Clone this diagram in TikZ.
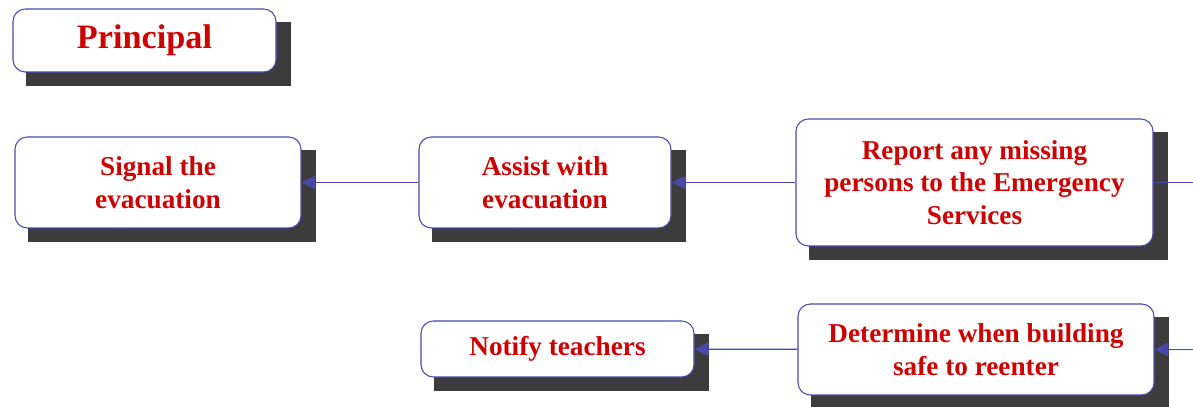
\documentclass[tikz,border=0pt]{standalone}
\usepackage{fontspec}
\setmainfont{Liberation Serif}
\usepackage{tikz}
\usetikzlibrary{arrows.meta}
\usetikzlibrary{backgrounds}
\usetikzlibrary{positioning}
\definecolor{rimcolour}{HTML}{4A4AAE}
\definecolor{wordcolour}{HTML}{CC0000}
\definecolor{linkcolour}{HTML}{4848A8}
\definecolor{shadecolour}{HTML}{3C3C3C}
\newcommand\rimwidth{.6pt}
\newcommand\linkwidth{.7pt}
\tikzset{>={Triangle[length=8pt,width=8pt]}}
\tikzstyle{task}  = [draw=rimcolour, line width=\rimwidth, fill=white,
  rounded corners=7pt, text=wordcolour, align=center, inner sep=2pt,
  font=\bfseries\fontsize{15.5}{18.5}\selectfont]
\tikzstyle{link}  = [draw=linkcolour, line width=\linkwidth]
\tikzstyle{shade} = [fill=shadecolour]

\begin{document}
\begin{tikzpicture}
  \useasboundingbox (0,0) rectangle (23.86,8.14);
  \tikzstyle{every node}=[task]
  \draw (2.89, 7.33) node[minimum width=5.26cm, minimum height=1.26cm, font=\bfseries\fontsize{19.5}{22}\selectfont] (prin) {Principal};
  \draw (3.16, 4.49) node[minimum width=5.72cm, minimum height=1.82cm] (sig) {Signal the\\evacuation};
  \draw (10.9, 4.49) node[minimum width=5.04cm, minimum height=1.82cm] (assist) {Assist with\\evacuation};
  \draw (19.49, 4.49) node[minimum width=7.14cm, minimum height=2.54cm] (report) {Report any missing\\persons to the Emergency\\Services};
  \draw (11.15, 1.16) node[minimum width=5.46cm, minimum height=1.12cm] (notify) {Notify teachers};
  \draw (19.52, 1.15) node[minimum width=7.12cm, minimum height=1.82cm] (safe) {Determine when building\\safe to reenter};
  \coordinate (reportout) at (23.86, 4.49);
  \coordinate (safein) at (23.86, 1.15);
  % drop shadows behind the boxes
  \begin{pgfonlayer}{background}
    \foreach \b in {prin, sig, assist, report, notify, safe}
      \fill[shade] ([shift={(0.28,-0.27)}]\b.south west) rectangle ([shift={(0.28,-0.27)}]\b.north east);
  \end{pgfonlayer}
  \draw[link] (sig) -- (assist) [<-];
  \draw[link] (assist) -- (report) [<-];
  \draw[link] (report) -- (reportout);
  \draw[link] (notify) -- (safe) [<-];
  \draw[link] (safe) -- (safein) [<-];
\end{tikzpicture}
\end{document}
